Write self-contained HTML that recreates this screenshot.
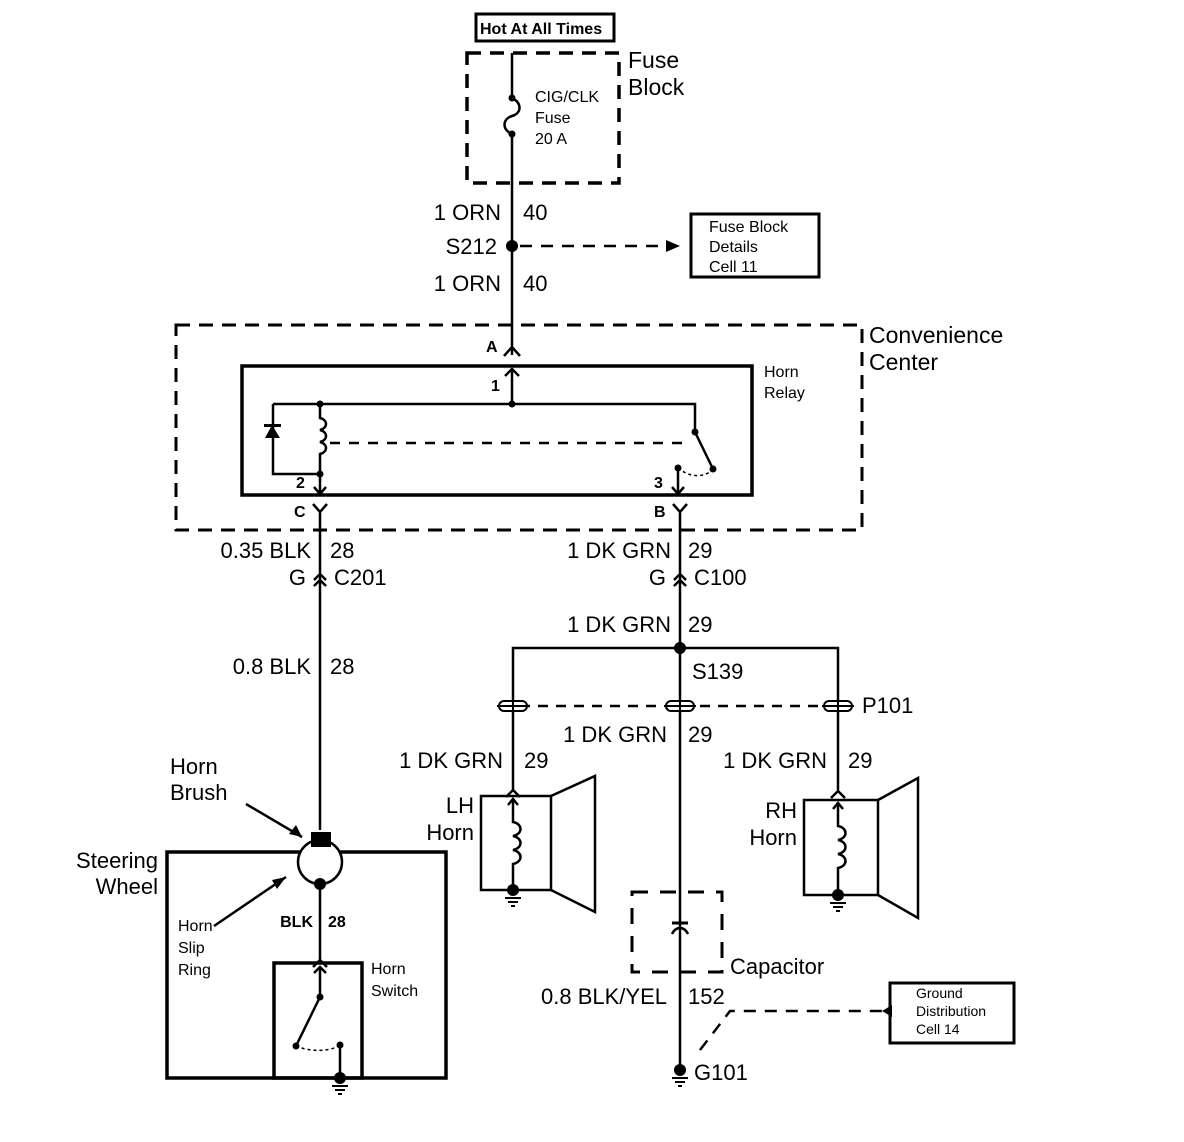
<!DOCTYPE html>
<html><head><style>
html,body{margin:0;padding:0;background:#fff;}
svg{display:block;}
text{font-family:"Liberation Sans",Arial,sans-serif;fill:#000;}
.b{font-size:22px;}
.s{font-size:16px;}
</style></head><body>
<svg width="1184" height="1142" viewBox="0 0 1184 1142" xmlns="http://www.w3.org/2000/svg">
<g fill="none" stroke="#000" stroke-width="2.5">
<rect x="476" y="14" width="138" height="27" stroke-width="3"/>
<rect x="467" y="53" width="152" height="130" stroke-width="3.5" stroke-dasharray="14,9"/>
<path d="M512 53 V98"/>
<path d="M512 98 C522 103,522 113,512 116 C502 119,502 130,512 134"/>
<path d="M512 134 V355"/>
<path d="M520 246 H672" stroke-dasharray="12,9"/>
<rect x="691" y="214" width="128" height="63" stroke-width="3"/>
<rect x="176" y="325" width="686" height="205" stroke-width="3" stroke-dasharray="14,9"/>
<path d="M504 356 L512 347 L520 356"/>
<rect x="242" y="366" width="510" height="129" stroke-width="3.5"/>
<path d="M512 368 V404 M505 376 L512 369 L519 376"/>
<path d="M273 404 H695 V432"/>
<path d="M273 404 V474 H320"/>
<path d="M320 404 V418 C328 420,328 428,320 430 C328 432,328 440,320 442 C328 444,328 452,320 454 V474"/>
<path d="M330 443 H690" stroke-dasharray="10,9"/>
<path d="M695 432 L713 469"/>
<path d="M678 468 C690 478,705 478,713 469" stroke-dasharray="3,3" stroke-width="1.5"/>
<path d="M320 474 V495 M314 487 L320 494 L326 487"/>
<path d="M678 468 V495 M672 487 L678 494 L684 487"/>
<path d="M313 504 L320 512 L327 504 M320 512 V830"/>
<path d="M673 504 L680 512 L687 504 M680 512 V1070"/>
<path d="M314 580 L320 574 L326 580 M314 586 L320 580 L326 586"/>
<path d="M674 580 L680 574 L686 580 M674 586 L680 580 L686 586"/>
<path d="M513 790 V648 H838 V790"/>
<path d="M520 706 H660 M700 706 H820" stroke-dasharray="10,8"/>
<path d="M506 797 L513 790 L520 797"/>
<rect x="481" y="796" width="70" height="94"/>
<path d="M551 796 L595 776 V912 L551 890"/>
<path d="M508 805 L513 799 L518 805 M513 799 V822 C523 824,523 834,513 836 C523 838,523 848,513 850 C523 852,523 862,513 864 V890"/>
<path d="M831 798 L838 791 L845 798"/>
<rect x="804" y="800" width="74" height="95"/>
<path d="M878 800 L918 778 V918 L878 895"/>
<path d="M833 809 L838 803 L843 809 M838 803 V826 C848 828,848 838,838 840 C848 842,848 852,838 854 C848 856,848 866,838 868 V895"/>
<rect x="632" y="892" width="90" height="80" stroke-width="3" stroke-dasharray="16,12"/>
<path d="M672 923 H688" stroke-width="3"/>
<path d="M672 934 C676 926,684 926,688 934"/>
<rect x="890" y="983" width="124" height="60" stroke-width="3"/>
<path d="M700 1050 L730 1011 H882" stroke-dasharray="12,9"/>
<rect x="167" y="852" width="279" height="226" stroke-width="3.5"/>
<circle cx="320" cy="862" r="22" fill="#fff"/>
<path d="M320 884 V960 M313 967 L320 960 L327 967"/>
<rect x="274" y="963" width="88" height="115" stroke-width="3.5"/>
<path d="M320 967 V997 M314 973 L320 967 L326 973"/>
<path d="M320 997 L296 1046"/>
<path d="M296 1046 C310 1052,330 1052,340 1045" stroke-dasharray="3,3" stroke-width="1.5"/>
<path d="M340 1045 V1078"/>
<path d="M246 804 L302 837"/>
<path d="M214 926 L286 877"/>
</g>
<g fill="#000">
<circle cx="512" cy="98" r="3.5"/><circle cx="512" cy="134" r="3.5"/>
<circle cx="512" cy="246" r="6"/>
<polygon points="680,246 666,240 666,252"/>
<circle cx="512" cy="404" r="3.5"/><circle cx="320" cy="404" r="3.5"/><circle cx="320" cy="474" r="3.5"/>
<circle cx="695" cy="432" r="3.5"/><circle cx="713" cy="469" r="3.5"/><circle cx="678" cy="468" r="3.5"/>
<polygon points="265,438 280,438 272,425"/><rect x="264" y="424" width="17" height="3"/>
<circle cx="680" cy="648" r="6"/>
<polygon points="882,1011 892,1005 892,1017"/>
<rect x="311" y="832" width="20" height="15"/>
<circle cx="320" cy="884" r="6"/>
<circle cx="320" cy="997" r="3.5"/><circle cx="296" cy="1046" r="3.5"/><circle cx="340" cy="1045" r="3.5"/>
<polygon points="302,837 289,834 296,825"/>
<polygon points="286,877 277,889 272,880"/>
</g>
<g fill="#fff" stroke="#000" stroke-width="2">
<rect x="499" y="701" width="28" height="10" rx="5"/><rect x="666" y="701" width="28" height="10" rx="5"/><rect x="824" y="701" width="28" height="10" rx="5"/>
</g>
<g stroke="#000" stroke-width="2">
<path d="M497 706 H529 M664 706 H696 M822 706 H854"/>
<path d="M513 701 V711 M680 701 V711 M838 701 V711"/>
</g>
<g stroke="#000" stroke-width="2" fill="#000">
<circle cx="513" cy="890" r="5"/><path d="M505 898 H521 M508 902 H518 M511 906 H515"/>
<circle cx="838" cy="895" r="5"/><path d="M830 903 H846 M833 907 H843 M836 911 H840"/>
<circle cx="680" cy="1070" r="5"/><path d="M672 1078 H688 M675 1082 H685 M678 1086 H682"/>
<circle cx="340" cy="1078" r="5"/><path d="M332 1086 H348 M335 1090 H345 M338 1094 H342"/>
</g>
<text x="480" y="34" font-weight="bold" style="font-size:16px">Hot At All Times</text>
<text x="628" y="68" style="font-size:23px">Fuse</text>
<text x="628" y="95" style="font-size:23px">Block</text>
<text x="535" y="102" class="s">CIG/CLK</text>
<text x="535" y="123" class="s">Fuse</text>
<text x="535" y="144" class="s">20 A</text>
<text x="501" y="220" class="b" text-anchor="end">1 ORN</text><text x="523" y="220" class="b">40</text>
<text x="497" y="254" class="b" text-anchor="end">S212</text>
<text x="501" y="291" class="b" text-anchor="end">1 ORN</text><text x="523" y="291" class="b">40</text>
<text x="709" y="232" class="s">Fuse Block</text>
<text x="709" y="252" class="s">Details</text>
<text x="709" y="272" class="s">Cell 11</text>
<text x="869" y="343" style="font-size:23px">Convenience</text>
<text x="869" y="370" style="font-size:23px">Center</text>
<text x="764" y="377" class="s">Horn</text>
<text x="764" y="398" class="s">Relay</text>
<text x="486" y="352" class="s" font-weight="bold">A</text>
<text x="491" y="391" class="s" font-weight="bold">1</text>
<text x="296" y="488" class="s" font-weight="bold">2</text>
<text x="654" y="488" class="s" font-weight="bold">3</text>
<text x="294" y="517" class="s" font-weight="bold">C</text>
<text x="654" y="517" class="s" font-weight="bold">B</text>
<text x="311" y="558" class="b" text-anchor="end">0.35 BLK</text><text x="330" y="558" class="b">28</text>
<text x="306" y="585" class="b" text-anchor="end">G</text><text x="334" y="585" class="b">C201</text>
<text x="671" y="558" class="b" text-anchor="end">1 DK GRN</text><text x="688" y="558" class="b">29</text>
<text x="666" y="585" class="b" text-anchor="end">G</text><text x="694" y="585" class="b">C100</text>
<text x="671" y="632" class="b" text-anchor="end">1 DK GRN</text><text x="688" y="632" class="b">29</text>
<text x="692" y="679" class="b">S139</text>
<text x="862" y="713" class="b">P101</text>
<text x="311" y="674" class="b" text-anchor="end">0.8 BLK</text><text x="330" y="674" class="b">28</text>
<text x="667" y="742" class="b" text-anchor="end">1 DK GRN</text><text x="688" y="742" class="b">29</text>
<text x="503" y="768" class="b" text-anchor="end">1 DK GRN</text><text x="524" y="768" class="b">29</text>
<text x="827" y="768" class="b" text-anchor="end">1 DK GRN</text><text x="848" y="768" class="b">29</text>
<text x="474" y="813" class="b" text-anchor="end">LH</text>
<text x="474" y="840" class="b" text-anchor="end">Horn</text>
<text x="797" y="818" class="b" text-anchor="end">RH</text>
<text x="797" y="845" class="b" text-anchor="end">Horn</text>
<text x="170" y="774" class="b">Horn</text>
<text x="170" y="800" class="b">Brush</text>
<text x="158" y="868" class="b" text-anchor="end">Steering</text>
<text x="158" y="894" class="b" text-anchor="end">Wheel</text>
<text x="178" y="931" class="s">Horn</text>
<text x="178" y="953" class="s">Slip</text>
<text x="178" y="975" class="s">Ring</text>
<text x="313" y="927" class="s" font-weight="bold" text-anchor="end">BLK</text>
<text x="328" y="927" class="s" font-weight="bold">28</text>
<text x="371" y="974" class="s">Horn</text>
<text x="371" y="996" class="s">Switch</text>
<text x="730" y="974" class="b">Capacitor</text>
<text x="667" y="1004" class="b" text-anchor="end">0.8 BLK/YEL</text><text x="688" y="1004" class="b">152</text>
<text x="694" y="1080" class="b">G101</text>
<text x="916" y="998" style="font-size:14px">Ground</text>
<text x="916" y="1016" style="font-size:14px">Distribution</text>
<text x="916" y="1034" style="font-size:14px">Cell 14</text>
</svg>
</body></html>
